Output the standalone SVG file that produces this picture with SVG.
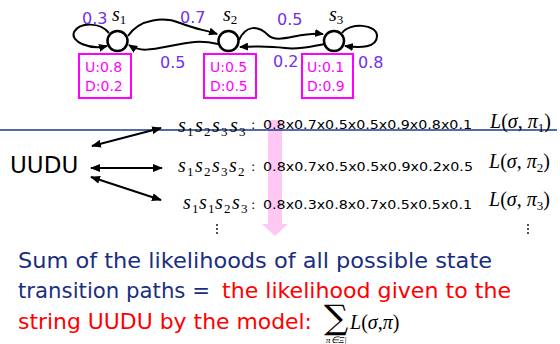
<svg xmlns="http://www.w3.org/2000/svg" width="560" height="344" viewBox="0 0 560 344">
<style>
.st{fill:#fff;stroke:#000;stroke-width:2.5}
.em{fill:#fff;stroke:#ff00ff;stroke-width:2}
.emt{font-family:"DejaVu Sans",sans-serif;font-size:14px;fill:#ff00ff}
.pl{font-family:"DejaVu Sans",sans-serif;font-size:16px;fill:#7030f0}
.mi{font-family:"Liberation Serif",serif;font-style:italic;font-size:20px;fill:#000}
.sb{font-family:"Liberation Serif",serif;font-style:normal;font-size:13px}
.up{font-style:normal}
.num{font-family:"DejaVu Sans",sans-serif;font-size:13px;fill:#000}
.tr{fill:none;stroke:#000;stroke-width:2}
.bt{font-family:"DejaVu Sans",sans-serif;font-size:21px}
</style>
<defs>
<marker id="ah" markerUnits="userSpaceOnUse" markerWidth="9" markerHeight="8" refX="8" refY="4" orient="auto">
<path d="M0,0 L9,4 L0,8 z" fill="#000"/>
</marker>
<marker id="dh" markerUnits="userSpaceOnUse" markerWidth="10" markerHeight="8" refX="9" refY="4" orient="auto-start-reverse">
<path d="M0,0 L10,4 L0,8 z" fill="#000"/>
</marker>
</defs>
<rect width="560" height="344" fill="#fff"/>
<polygon points="268,120 282,120 282,224 288,224 275,236 262,224 268,224" fill="#ffc8f4"/>
<line x1="0" y1="130" x2="557" y2="130" stroke="#1a3a8c" stroke-width="1.5"/>
<g id="connectors">
<path class="tr" d="M109,33 C100,22 80,22 74,32 C70,42 90,50 107,46" marker-end="url(#ah)"/>
<path class="tr" d="M128,36 C140,18 165,17 180,23 S205,30 217,34" marker-end="url(#ah)"/>
<path class="tr" d="M218,44 C200,40 190,42 170,46 S140,52 129,45" marker-end="url(#ah)"/>
<path class="tr" d="M239,40 C246,25 258,25 268,35 S300,31 323,34" marker-end="url(#ah)"/>
<path class="tr" d="M325,44 C312,46 300,50 285,48 S258,46 240,47" marker-end="url(#ah)"/>
<path class="tr" d="M342,33 C350,22 377,24 377,36 C377,48 360,48 345,46" marker-end="url(#ah)"/>
<line class="tr" x1="92" y1="146" x2="161" y2="128" marker-start="url(#dh)" marker-end="url(#dh)"/>
<line class="tr" x1="91" y1="168" x2="162" y2="168" marker-start="url(#dh)" marker-end="url(#dh)"/>
<line class="tr" x1="91" y1="177" x2="161" y2="200" marker-start="url(#dh)" marker-end="url(#dh)"/>
</g>
<g id="labels">
<text class="pl" x="82" y="24">0.3</text>
<text class="pl" x="180" y="23">0.7</text>
<text class="pl" x="277" y="25">0.5</text>
<text class="pl" x="160" y="68">0.5</text>
<text class="pl" x="273" y="67">0.2</text>
<text class="pl" x="358" y="68">0.8</text>
</g>
<g id="s1">
<circle class="st" cx="117.5" cy="41" r="10"/>
<text class="mi" x="112" y="21" font-size="17">s<tspan class="sb" font-size="11" dy="3">1</tspan></text>
<rect class="em" x="79" y="54" width="52" height="44"/>
<text class="emt" x="85" y="72">U:0.8</text>
<text class="emt" x="85" y="91">D:0.2</text>
</g>
<g id="s2">
<circle class="st" cx="228.5" cy="41" r="10"/>
<text class="mi" x="223" y="21" font-size="17">s<tspan class="sb" font-size="11" dy="3">2</tspan></text>
<rect class="em" x="204" y="54" width="52" height="44"/>
<text class="emt" x="210" y="72">U:0.5</text>
<text class="emt" x="210" y="91">D:0.5</text>
</g>
<g id="s3">
<circle class="st" cx="334" cy="41" r="10"/>
<text class="mi" x="329" y="21" font-size="17">s<tspan class="sb" font-size="11" dy="3">3</tspan></text>
<rect class="em" x="302" y="54" width="51" height="44"/>
<text class="emt" x="307" y="72">U:0.1</text>
<text class="emt" x="307" y="91">D:0.9</text>
</g>
<g id="uudu">
<text x="10" y="173" font-family="DejaVu Sans, sans-serif" font-size="23">UUDU</text>
</g>
<g id="path1">
<text class="mi" y="132"><tspan x="178">s</tspan><tspan class="sb" x="187" dy="4">1</tspan><tspan x="195" dy="-4">s</tspan><tspan class="sb" x="204" dy="4">2</tspan><tspan x="212" dy="-4">s</tspan><tspan class="sb" x="221" dy="4">3</tspan><tspan x="230" dy="-4">s</tspan><tspan class="sb" x="239" dy="4">3</tspan></text>
<text class="num" x="251" y="129">:</text>
<text class="num" x="263" y="129" textLength="209" lengthAdjust="spacingAndGlyphs">0.8x0.7x0.5x0.5x0.9x0.8x0.1</text>
<text class="mi" x="490" y="128" font-size="21">L<tspan class="up">(</tspan>σ<tspan class="up">,</tspan> π<tspan class="sb" dy="4">1</tspan><tspan class="up" dy="-4">)</tspan></text>
</g>
<g id="path2">
<text class="mi" y="172"><tspan x="178">s</tspan><tspan class="sb" x="187" dy="4">1</tspan><tspan x="195" dy="-4">s</tspan><tspan class="sb" x="204" dy="4">2</tspan><tspan x="212" dy="-4">s</tspan><tspan class="sb" x="221" dy="4">3</tspan><tspan x="229" dy="-4">s</tspan><tspan class="sb" x="238" dy="4">2</tspan></text>
<text class="num" x="251" y="171">:</text>
<text class="num" x="263" y="171" textLength="210" lengthAdjust="spacingAndGlyphs">0.8x0.7x0.5x0.5x0.9x0.2x0.5</text>
<text class="mi" x="489" y="168" font-size="21">L<tspan class="up">(</tspan>σ<tspan class="up">,</tspan> π<tspan class="sb" dy="4">2</tspan><tspan class="up" dy="-4">)</tspan></text>
</g>
<g id="path3">
<text class="mi" y="209"><tspan x="183">s</tspan><tspan class="sb" x="192" dy="4">1</tspan><tspan x="199" dy="-4">s</tspan><tspan class="sb" x="208" dy="4">1</tspan><tspan x="215" dy="-4">s</tspan><tspan class="sb" x="224" dy="4">2</tspan><tspan x="232" dy="-4">s</tspan><tspan class="sb" x="241" dy="4">3</tspan></text>
<text class="num" x="251" y="209">:</text>
<text class="num" x="263" y="209" textLength="209" lengthAdjust="spacingAndGlyphs">0.8x0.3x0.8x0.7x0.5x0.5x0.1</text>
<text class="mi" x="489" y="206" font-size="21">L<tspan class="up">(</tspan>σ<tspan class="up">,</tspan> π<tspan class="sb" dy="4">3</tspan><tspan class="up" dy="-4">)</tspan></text>
</g>
<g id="dots" fill="#000">
<circle cx="217" cy="225" r="0.9"/><circle cx="217" cy="229" r="0.9"/><circle cx="217" cy="233" r="0.9"/>
<circle cx="528" cy="225" r="0.9"/><circle cx="528" cy="229" r="0.9"/><circle cx="528" cy="233" r="0.9"/>
</g>
<g id="summary">
<text class="bt" x="18" y="268" fill="#1a2e80" textLength="474" lengthAdjust="spacingAndGlyphs">Sum of the likelihoods of all possible state</text>
<text class="bt" x="18" y="298" fill="#1a2e80" textLength="192" lengthAdjust="spacingAndGlyphs">transition paths =</text>
<text class="bt" x="222" y="298" fill="#ff0000" textLength="289" lengthAdjust="spacingAndGlyphs">the likelihood given to the</text>
<text class="bt" x="18" y="329" fill="#ff0000" textLength="294" lengthAdjust="spacingAndGlyphs">string UUDU by the model:</text>
<text x="324" y="329" font-family="DejaVu Serif, serif" font-size="34">∑</text>
<text class="mi" x="350" y="329" font-size="21">L<tspan class="up">(</tspan>σ<tspan class="up">,</tspan>π<tspan class="up">)</tspan></text>
<text x="326" y="343" font-family="Liberation Serif, serif" font-style="italic" font-size="9">π∈Ξ|</text>
</g>
</svg>
